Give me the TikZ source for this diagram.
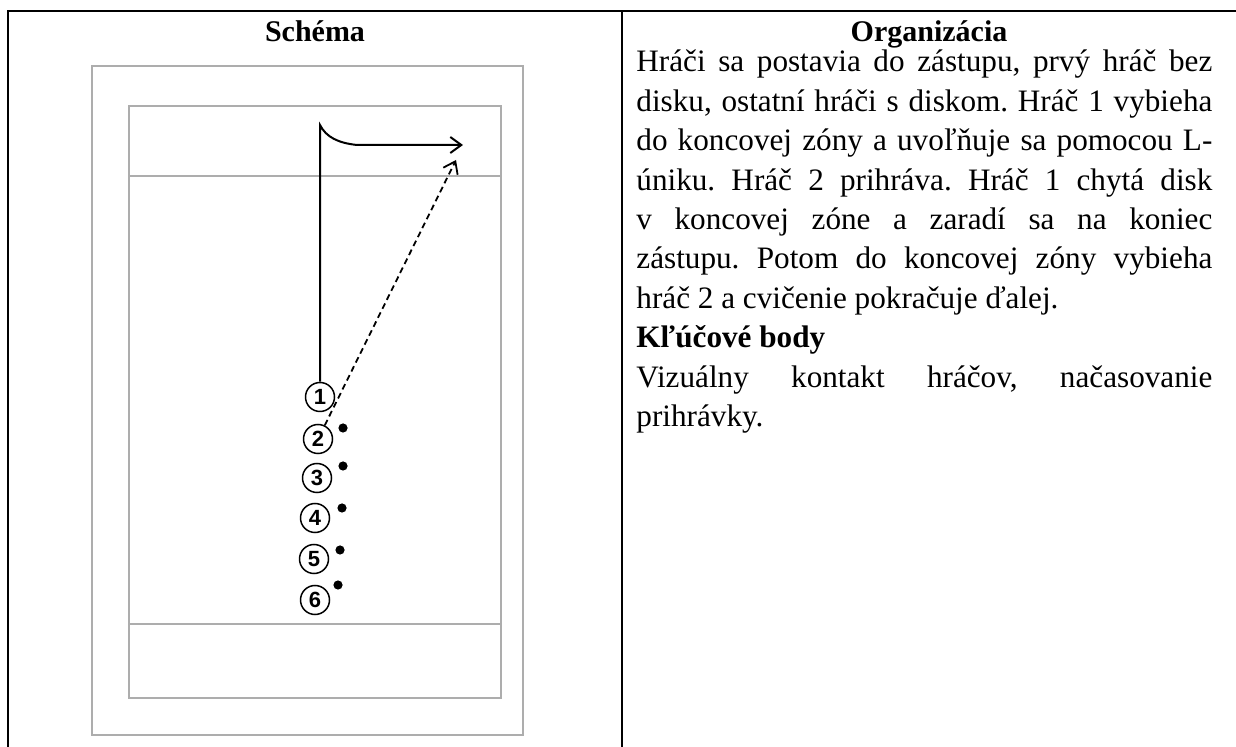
\documentclass[tikz,border=0pt]{standalone}
\usepackage{fontspec}
\setmainfont{Liberation Serif}
\newfontfamily\digitfont{Liberation Sans}
\usetikzlibrary{arrows.meta}

\begin{document}
\begin{tikzpicture}[x=0.5pt, y=-0.5pt,
    frame/.style={line width=1.3pt, black},
    court/.style={draw=black!32, line width=0.8pt},
    player/.style={circle, draw=black, line width=0.75pt, minimum size=14.5pt, inner sep=0pt, font=\digitfont\bfseries\fontsize{11}{11}\selectfont},
    disc/.style={circle, fill=black, minimum size=4.6pt, inner sep=0pt},
    run/.style={line width=1pt, -{Straight Barb[length=5.5pt, width=8pt]}},
    pass/.style={line width=0.9pt, dash pattern=on 3pt off 2pt, -{Straight Barb[length=5.5pt, width=8pt]}},
    heading/.style={font=\bfseries\fontsize{15}{17}\selectfont},
    body/.style={text width=288pt, align=justify, inner sep=0pt, font=\fontsize{15.6}{19.7}\selectfont}
]
\useasboundingbox (0,0) rectangle (1236,747);

% Table
\draw[frame] (1236,11) -- (8,11) -- (8,747);
\draw[frame] (622,11) -- (622,747);

% Headings
\node[heading, anchor=base] (schema) at (315,42) {Schéma};
\node[heading, anchor=base] (org) at (929,42) {Organizácia};

% Court
\draw[court] (92,66) rectangle (523,735);
\draw[court] (129,106) rectangle (501,698);
\draw[court] (129,176) -- (501,176);
\draw[court] (129,624) -- (501,624);

% Players
\node[player] (p1) at (320,397) {1};
\node[player] (p2) at (318,439) {2};
\node[player] (p3) at (317,478) {3};
\node[player] (p4) at (315,518) {4};
\node[player] (p5) at (314,559) {5};
\node[player] (p6) at (315,600) {6};

% Discs
\node[disc] (d2) at (343,428) {};
\node[disc] (d3) at (343,466) {};
\node[disc] (d4) at (342,508) {};
\node[disc] (d5) at (340,550) {};
\node[disc] (d6) at (338,585) {};

% Run and pass
\coordinate (turn) at (320,125);
\coordinate (bend) at (357,145);
\coordinate (tip1) at (463,145);
\coordinate (tip2) at (456,160);
\draw[run] (p1.north) -- (turn) .. controls (326,137) and (338,143) .. (bend) -- (tip1);
\draw[pass] (p2) -- (tip2);

% Text
\node[body, anchor=base west] (text) at (636,72) {\frenchspacing\tolerance=10000\hbadness=10000
\spaceskip=0.25em plus 2em minus 0.06em
Hráči sa postavia do zástupu, prvý hráč bez\linebreak
disku, ostatní hráči s~diskom. Hráč 1 vybieha\linebreak
do koncovej zóny a uvoľňuje sa pomocou L-\linebreak
úniku. Hráč 2 prihráva. Hráč 1 chytá disk\linebreak
v~koncovej zóne a~zaradí sa na koniec\linebreak
zástupu. Potom do koncovej zóny vybieha\linebreak
hráč 2 a cvičenie pokračuje ďalej.\par
{\bfseries Kľúčové body}\par
Vizuálny kontakt hráčov, načasovanie\linebreak
prihrávky.};

\end{tikzpicture}
\end{document}
